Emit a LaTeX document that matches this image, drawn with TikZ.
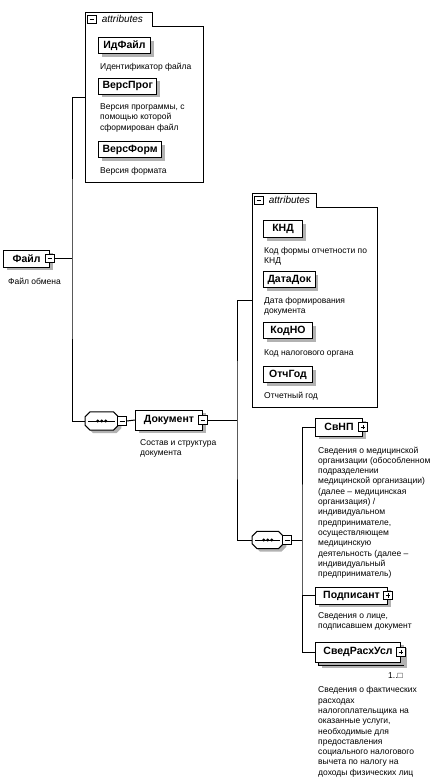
\documentclass[tikz,border=0pt]{standalone}
\usepackage{fontspec}
\setmainfont{Liberation Sans}
\usetikzlibrary{positioning}

\tikzset{
  shade under/.style={preaction={fill=gray!60, transform canvas={xshift=3pt, yshift=-3pt}}},
  box/.style={draw, fill=white, line width=1pt, inner xsep=4pt, inner ysep=0pt,
    font=\fontsize{10.5}{12}\selectfont\bfseries, shade under},
  elem/.style={box, anchor=west, minimum height=18pt},
  attr/.style={box, anchor=west, minimum height=16pt},
  info/.style={inner sep=0pt, align=left, font=\fontsize{8.5}{10.3}\selectfont},
  group/.style={inner sep=0pt, anchor=north west},
  tab/.style={inner sep=0pt, anchor=north west, minimum height=14pt},
  tablabel/.style={inner sep=0pt, font=\fontsize{10}{11}\selectfont\itshape},
  toggle/.style={draw, fill=white, line width=0.8pt, inner sep=0pt, minimum size=8.5pt},
  minus/.style={toggle, path picture={
    \draw[line width=0.8pt] ([xshift=1.8pt]path picture bounding box.west) -- ([xshift=-1.8pt]path picture bounding box.east);}},
  plus/.style={toggle, path picture={
    \draw[line width=0.8pt] ([xshift=1.8pt]path picture bounding box.west) -- ([xshift=-1.8pt]path picture bounding box.east)
      ([yshift=1.8pt]path picture bounding box.south) -- ([yshift=-1.8pt]path picture bounding box.north);}},
  seq/.style={inner sep=0pt, anchor=west, minimum height=18pt},
  wire/.style={line width=1pt}
}

% outline of a sequence compositor round node #1
\newcommand{\seqoutline}[1]{%
  \draw [wire, fill=white, shade under]
    ([xshift=5pt]#1.north west) -- ([xshift=-5pt]#1.north east) -- ([yshift=-5pt]#1.north east)
    -- ([yshift=5pt]#1.south east) -- ([xshift=-5pt]#1.south east) -- ([xshift=5pt]#1.south west)
    -- ([yshift=5pt]#1.south west) -- ([yshift=-5pt]#1.north west) -- cycle;
  \draw [wire] ([xshift=3pt]#1.west) -- ([xshift=-3pt]#1.east);
  \foreach \d in {-4,0,4}
    \fill ([xshift=\d pt]#1.center) circle (1.6pt);
}

\begin{document}
\begin{tikzpicture}[x=1pt, y=-1pt]
  \useasboundingbox (0,0) rectangle (436,782);

  % root element
  \node [elem, minimum width=46pt, minimum height=17pt] (fajl) at (3,258.5) {Файл};
  \node [minus] (fajl-sq) at (fajl.east) {};
  \node [info, below right=10pt and 5pt of fajl.south west] (fajl-info) {Файл обмена};
  \coordinate (fajl-bus) at (72,258.5);

  % attributes of the file
  \node [group, minimum width=118pt, minimum height=170pt] (attrs1) at (85,12) {};
  \node [tab, minimum width=67pt] (attrs1-tab) at (attrs1.north west) {};
  \draw [wire] (attrs1.north west) -- (attrs1-tab.north east) -- (attrs1-tab.south east)
    -| (attrs1.south east) -- (attrs1.south west) -- cycle;
  \node [minus] (attrs1-sq) at ([xshift=7pt]attrs1-tab.west) {};
  \node [tablabel, right=5pt of attrs1-sq] (attrs1-lbl) {attributes};

  \node [attr, minimum width=52pt] (idfajl) at (98,45.5) {ИдФайл};
  \node [info, below right=9pt and 2pt of idfajl.south west] (idfajl-info) {Идентификатор файла};
  \node [attr, minimum width=54pt] (verspr) at (98,86) {ВерсПрог};
  \node [info, below right=9pt and 2pt of verspr.south west] (verspr-info) {Версия программы, с\\помощью которой\\сформирован файл};
  \node [attr, minimum width=61pt] (versfrm) at (98,149.5) {ВерсФорм};
  \node [info, below right=9pt and 2pt of versfrm.south west] (versfrm-info) {Версия формата};

  % sequence of the file
  \node [seq, minimum width=33pt] (seq1) at (85,421) {};
  \seqoutline{seq1}
  \node [minus, anchor=west] (seq1-sq) at ([xshift=-1pt]seq1.east) {};

  % document
  \node [elem, minimum width=67pt, minimum height=20pt] (dok) at (135,420) {Документ};
  \node [minus] (dok-sq) at (dok.east) {};
  \node [info, below right=9pt and 5pt of dok.south west] (dok-info) {Состав и структура\\документа};
  \coordinate (dok-bus) at (237,420);

  % attributes of the document
  \node [group, minimum width=125pt, minimum height=214pt] (attrs2) at (252,193) {};
  \node [tab, minimum width=64pt] (attrs2-tab) at (attrs2.north west) {};
  \draw [wire] (attrs2.north west) -- (attrs2-tab.north east) -- (attrs2-tab.south east)
    -| (attrs2.south east) -- (attrs2.south west) -- cycle;
  \node [minus] (attrs2-sq) at ([xshift=7pt]attrs2-tab.west) {};
  \node [tablabel, right=5pt of attrs2-sq] (attrs2-lbl) {attributes};

  \node [attr, minimum width=39pt, minimum height=17pt] (knd) at (263,229) {КНД};
  \node [info, below right=9pt and 1pt of knd.south west] (knd-info) {Код формы отчетности по\\КНД};
  \node [attr, minimum width=50pt] (datadok) at (263,279.5) {ДатаДок};
  \node [info, below right=9pt and 1pt of datadok.south west] (datadok-info) {Дата формирования\\документа};
  \node [attr, minimum width=49pt] (kodno) at (263,330.5) {КодНО};
  \node [info, below right=10pt and 1pt of kodno.south west] (kodno-info) {Код налогового органа};
  \node [attr, minimum width=49pt] (otchgod) at (263,374.5) {ОтчГод};
  \node [info, below right=9pt and 1pt of otchgod.south west] (otchgod-info) {Отчетный год};

  % sequence of the document
  \node [seq, minimum width=31pt, minimum height=17pt] (seq2) at (252,540) {};
  \seqoutline{seq2}
  \node [minus, anchor=west] (seq2-sq) at ([xshift=-1pt]seq2.east) {};
  \coordinate (seq2-bus) at (302,540);

  \node [elem, minimum width=47pt] (svnp) at (315,427) {СвНП};
  \node [plus] (svnp-sq) at (svnp.east) {};
  \node [info, below right=10pt and 3pt of svnp.south west] (svnp-info) {Сведения о медицинской\\организации (обособленном\\подразделении\\медицинской организации)\\(далее – медицинская\\организация) /\\индивидуальном\\предпринимателе,\\осуществляющем\\медицинскую\\деятельность (далее –\\индивидуальный\\предприниматель)};

  \node [elem, minimum width=72pt, minimum height=17pt] (podp) at (315,595.5) {Подписант};
  \node [plus] (podp-sq) at (podp.east) {};
  \node [info, below right=8pt and 3pt of podp.south west] (podp-info) {Сведения о лице,\\подписавшем документ};

  \node [elem, minimum width=85pt, minimum height=20pt] (svedrash-stack) at (318,655) {};
  \node [elem, minimum width=85pt, minimum height=20pt] (svedrash) at (315,652) {СведРасхУсл};
  \node [plus] (svedrash-sq) at (svedrash.east) {};
  \node [info, below left=10pt and -2pt of svedrash.south east] (svedrash-occ) {1..□};
  \node [info, below right=24pt and 3pt of svedrash.south west] (svedrash-info) {Сведения о фактических\\расходах\\налогоплательщика на\\оказанные услуги,\\необходимые для\\предоставления\\социального налогового\\вычета по налогу на\\доходы физических лиц};

  % connectors
  \draw [wire] (fajl-sq.east) -- (fajl-bus);
  \draw [wire] (attrs1.west) -| (fajl-bus) |- (seq1.west);
  \draw [wire] (seq1-sq.east) -- (dok.west);
  \draw [wire] (dok-sq.east) -- (dok-bus);
  \draw [wire] (attrs2.west) -| (dok-bus) |- (seq2.west);
  \draw [wire] (seq2-sq.east) -- (seq2-bus);
  \draw [wire] (svnp.west) -| (seq2-bus) |- (svedrash.west);
  \draw [wire] (seq2-bus |- podp.west) -- (podp.west);
\end{tikzpicture}
\end{document}
